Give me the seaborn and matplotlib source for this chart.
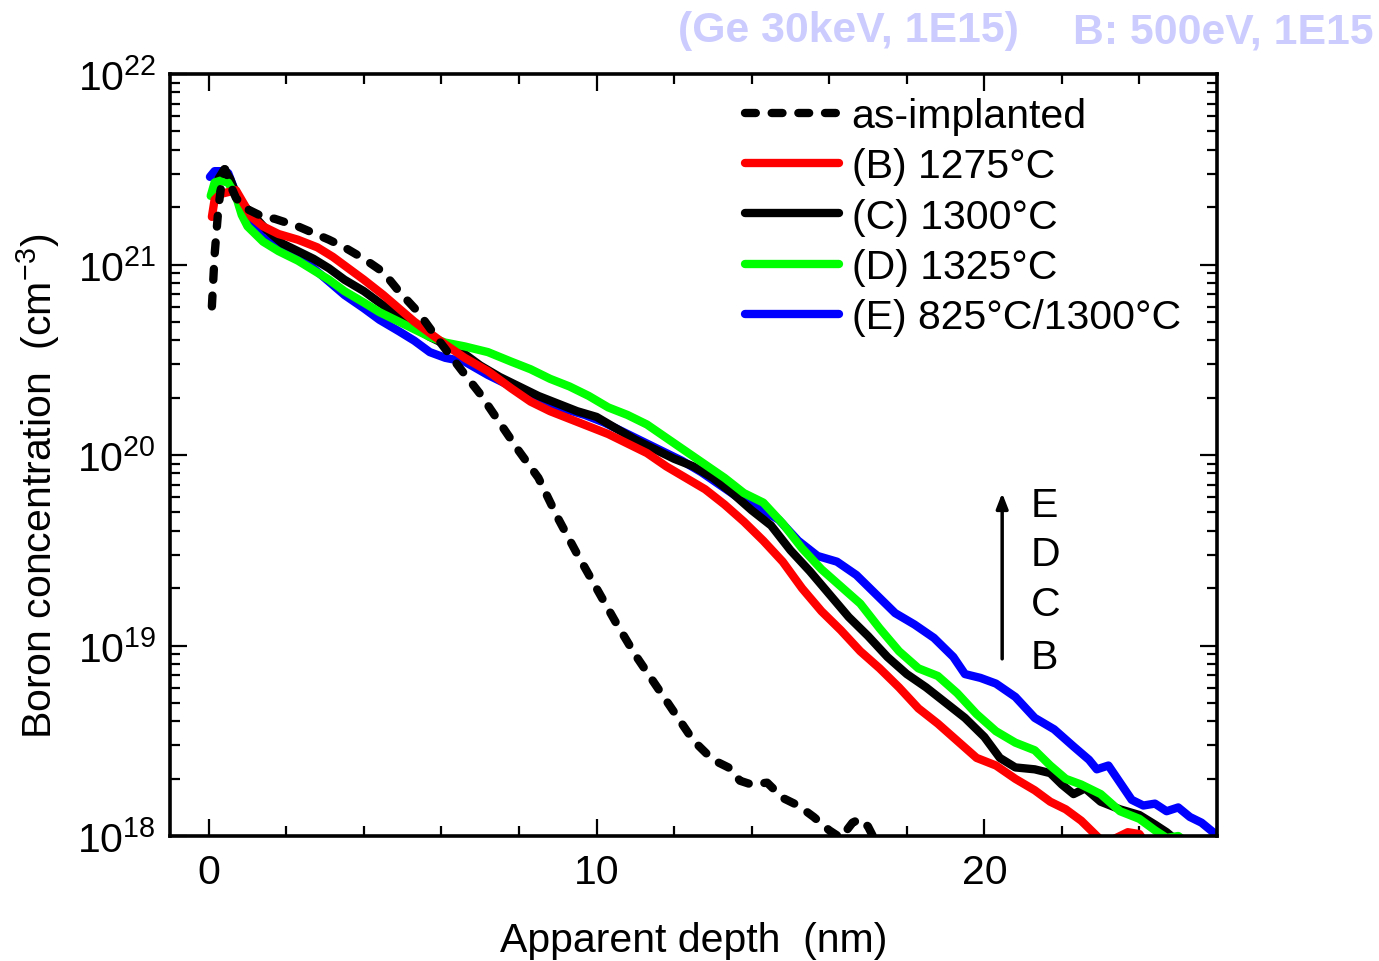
import numpy as np
import pandas as pd
import matplotlib
matplotlib.use("Agg")
import matplotlib.pyplot as plt
from matplotlib.ticker import MultipleLocator, LogLocator, FixedLocator, FuncFormatter, NullFormatter
import seaborn as sns

# ---------------- data (depth in nm, log10 of boron concentration in cm^-3) ----------------
asimp_depth = [0.08, 0.15, 0.25, 0.35, 0.42, 0.55, 0.7, 0.9, 1.2, 1.4, 1.7, 2.3, 3.1, 3.5, 4.0, 4.5,
               4.9, 5.4, 5.9, 6.5, 7.0, 7.5, 8.0, 8.5, 9.0, 9.5, 10.0, 10.5, 11.0, 11.5, 12.0, 12.5,
               13.0, 13.4, 13.7, 14.0, 14.4, 14.8, 15.2, 15.6, 16.0, 16.3, 16.6, 16.8, 17.0, 17.2, 18.0]
asimp_log = [20.78, 21.05, 21.30, 21.46, 21.50, 21.42, 21.35, 21.30, 21.27, 21.25, 21.24, 21.20, 21.13,
             21.09, 21.03, 20.96, 20.86, 20.75, 20.61, 20.45, 20.32, 20.17, 20.02, 19.88, 19.67, 19.48,
             19.30, 19.12, 18.95, 18.80, 18.65, 18.50, 18.40, 18.36, 18.29, 18.27, 18.28, 18.20, 18.16,
             18.10, 18.03, 17.99, 18.07, 18.09, 18.05, 17.97, 17.90]

b_depth = [0.08, 0.15, 0.3, 0.5, 0.7, 0.9, 1.1, 1.4, 1.8, 2.3, 2.8, 3.2, 3.6, 4.0, 4.5, 4.9, 5.3, 5.7,
           6.1, 6.6, 7.2, 7.8, 8.3, 8.8, 9.3, 9.8, 10.3, 10.8, 11.3, 11.8, 12.3, 12.8, 13.3, 13.8,
           14.3, 14.8, 15.3, 15.8, 16.3, 16.8, 17.3, 17.8, 18.3, 18.8, 19.3, 19.8, 20.3, 20.8, 21.3,
           21.7, 22.1, 22.5, 22.8, 23.1, 23.4, 23.7, 24.0, 24.2]
b_log = [21.25, 21.34, 21.37, 21.38, 21.39, 21.32, 21.25, 21.20, 21.16, 21.13, 21.09, 21.04, 20.98,
         20.92, 20.84, 20.77, 20.70, 20.64, 20.58, 20.51, 20.44, 20.35, 20.28, 20.23, 20.19, 20.15,
         20.11, 20.06, 20.01, 19.94, 19.88, 19.82, 19.74, 19.65, 19.55, 19.44, 19.30, 19.18, 19.08,
         18.97, 18.88, 18.78, 18.67, 18.59, 18.50, 18.41, 18.37, 18.30, 18.24, 18.18, 18.14, 18.08,
         18.02, 17.96, 17.99, 18.02, 18.01, 17.95]

c_depth = [0.1, 0.25, 0.4, 0.55, 0.7, 0.9, 1.1, 1.5, 1.9, 2.3, 2.7, 3.1, 3.5, 4.0, 4.4, 4.9, 5.3, 5.7,
           6.1, 6.6, 7.0, 7.5, 8.0, 8.5, 9.0, 9.5, 10.0, 10.5, 11.0, 11.5, 12.0, 12.5, 13.0, 13.5,
           14.0, 14.5, 15.0, 15.5, 16.0, 16.5, 17.0, 17.5, 18.0, 18.5, 19.0, 19.5, 20.0, 20.4, 20.8,
           21.3, 21.7, 22.0, 22.3, 22.6, 23.0, 23.5, 24.0, 24.4, 24.7, 25.0]
c_log = [21.36, 21.45, 21.50, 21.45, 21.37, 21.31, 21.27, 21.18, 21.11, 21.07, 21.03, 20.98, 20.92,
         20.86, 20.80, 20.73, 20.67, 20.62, 20.58, 20.53, 20.47, 20.41, 20.36, 20.31, 20.27, 20.23,
         20.20, 20.14, 20.08, 20.03, 19.98, 19.94, 19.88, 19.80, 19.71, 19.63, 19.50, 19.39, 19.27,
         19.15, 19.05, 18.94, 18.85, 18.78, 18.70, 18.62, 18.52, 18.41, 18.36, 18.35, 18.33, 18.27,
         18.22, 18.25, 18.18, 18.14, 18.11, 18.06, 18.02, 17.97]

d_depth = [0.05, 0.15, 0.3, 0.5, 0.7, 0.85, 1.0, 1.4, 1.8, 2.3, 2.7, 3.1, 3.5, 4.0, 4.4, 4.9, 5.3, 5.7,
           6.1, 6.6, 7.2, 7.8, 8.3, 8.8, 9.3, 9.8, 10.3, 10.8, 11.3, 11.8, 12.3, 12.8, 13.3, 13.8,
           14.3, 14.8, 15.3, 15.8, 16.3, 16.8, 17.3, 17.8, 18.3, 18.8, 19.3, 19.8, 20.3, 20.8, 21.3,
           21.7, 22.1, 22.5, 23.0, 23.5, 24.0, 24.4, 24.7, 25.0, 25.2]
d_log = [21.36, 21.43, 21.44, 21.43, 21.36, 21.26, 21.20, 21.12, 21.07, 21.02, 20.97, 20.92, 20.86,
         20.80, 20.75, 20.70, 20.66, 20.62, 20.59, 20.57, 20.54, 20.49, 20.45, 20.40, 20.36, 20.31,
         20.25, 20.21, 20.16, 20.09, 20.02, 19.95, 19.88, 19.80, 19.75, 19.64, 19.51, 19.40, 19.31,
         19.22, 19.09, 18.97, 18.88, 18.84, 18.75, 18.64, 18.55, 18.49, 18.45, 18.37, 18.30, 18.27,
         18.22, 18.13, 18.09, 18.03, 17.99, 18.00, 17.97]

e_depth = [0.03, 0.15, 0.3, 0.5, 0.65, 0.8, 1.0, 1.4, 1.8, 2.3, 2.7, 3.1, 3.5, 4.0, 4.4, 4.9, 5.3, 5.7,
           6.1, 6.6, 7.2, 7.7, 8.2, 8.7, 9.2, 9.7, 10.2, 10.7, 11.2, 11.7, 12.2, 12.7, 13.2, 13.7,
           14.2, 14.7, 15.2, 15.7, 16.2, 16.7, 17.2, 17.7, 18.2, 18.7, 19.2, 19.5, 19.9, 20.3, 20.8,
           21.3, 21.8, 22.3, 22.7, 22.9, 23.2, 23.5, 23.8, 24.1, 24.4, 24.7, 25.0, 25.3, 25.6, 25.9,
           26.1]
e_log = [21.46, 21.49, 21.49, 21.48, 21.40, 21.32, 21.25, 21.14, 21.09, 21.04, 20.98, 20.91, 20.84,
         20.77, 20.71, 20.65, 20.60, 20.54, 20.51, 20.49, 20.42, 20.37, 20.32, 20.28, 20.24, 20.21,
         20.17, 20.12, 20.07, 20.02, 19.97, 19.91, 19.84, 19.77, 19.72, 19.66, 19.55, 19.47, 19.44,
         19.37, 19.27, 19.17, 19.11, 19.04, 18.94, 18.85, 18.83, 18.80, 18.73, 18.62, 18.56, 18.47,
         18.40, 18.35, 18.37, 18.28, 18.19, 18.16, 18.17, 18.13, 18.15, 18.10, 18.07, 18.02, 17.98]

series_labels = ["as-implanted", "(B) 1275°C", "(C) 1300°C", "(D) 1325°C", "(E) 825°C/1300°C"]
series_colors = ["#000000", "#ff0000", "#000000", "#00ff00", "#0000ff"]

y_ticks = [1e18, 1e19, 1e20, 1e21, 1e22]
x_ticks = [0, 10, 20]
order_letters = ["E", "D", "C", "B"]

# ---------------- style ----------------
sns.set_style("ticks")
plt.rcParams["font.family"] = ["Liberation Sans", "DejaVu Sans"]
plt.rcParams["mathtext.default"] = "regular"
for k in ["text.color", "axes.labelcolor", "xtick.color", "ytick.color", "axes.edgecolor"]:
    plt.rcParams[k] = "black"

fig = plt.figure(figsize=(13.79, 9.62), dpi=100)
ax = fig.add_axes([170 / 1379, 1 - 837 / 962, (1217 - 170) / 1379, (837 - 75) / 962])

LW = 6.0
data = [(asimp_depth, asimp_log), (b_depth, b_log), (c_depth, c_log), (d_depth, d_log), (e_depth, e_log)]
zorders = [6, 5, 3, 4, 2]
for i, ((dx, dy), lab, col) in enumerate(zip(data, series_labels, series_colors)):
    df = pd.DataFrame({"depth": dx, "conc": 10 ** np.array(dy)})
    if i == 0:
        sns.lineplot(data=df, x="depth", y="conc", ax=ax, color=col, linewidth=LW, label=lab,
                     sort=False, estimator=None, linestyle=(0, (1.3, 1.9)),
                     dash_capstyle="round", zorder=zorders[i])
    else:
        sns.lineplot(data=df, x="depth", y="conc", ax=ax, color=col, linewidth=LW, label=lab,
                     sort=False, estimator=None, solid_capstyle="round",
                     solid_joinstyle="round", zorder=zorders[i])

ax.set_yscale("log")
ax.set_xlim(-1, 26)
ax.set_ylim(1e18, 1e22)

ax.xaxis.set_major_locator(FixedLocator(x_ticks))
ax.xaxis.set_minor_locator(MultipleLocator(2))
ax.yaxis.set_major_locator(FixedLocator(y_ticks))
ax.yaxis.set_minor_locator(LogLocator(base=10, subs=np.arange(2, 10)))
ax.yaxis.set_minor_formatter(NullFormatter())
ax.yaxis.set_major_formatter(FuncFormatter(lambda v, p: r"$10^{%d}$" % int(round(np.log10(v)))))

ax.tick_params(which="both", direction="in", top=True, right=True, width=1.6, labelsize=29.5,
               colors="black")
ax.tick_params(which="major", length=12)
ax.tick_params(which="minor", length=7)
ax.tick_params(axis="x", which="major", pad=12)
ax.tick_params(axis="y", which="major", pad=10)
for s in ax.spines.values():
    s.set_linewidth(2.6)
    s.set_color("black")
    s.set_zorder(10)

ax.set_xlabel("Apparent depth  (nm)", fontsize=29.5, va="center")
ax.xaxis.set_label_coords(0.5, -0.137)
ax.set_ylabel(r"Boron concentration  (cm$^{-3}$)", fontsize=29.5, va="center")
ax.yaxis.set_label_coords(-0.126, 0.46)

leg = ax.legend(loc="upper left", bbox_to_anchor=((745 - 170) / 1047, (837 - 98) / 762),
                frameon=False, fontsize=29.5, handlelength=2.3, handletextpad=0.3,
                labelspacing=0.3, borderpad=0, borderaxespad=0)

# arrow and letters
ax.annotate("", xy=(20.46, 10 ** 19.80), xytext=(20.46, 10 ** 18.93),
            arrowprops=dict(arrowstyle="-|>,head_length=0.9,head_width=0.35", lw=2.5, color="black",
                            shrinkA=0, shrinkB=0))
for lt, lv in zip(order_letters, [19.74, 19.48, 19.22, 18.94]):
    ax.text(21.2, 10 ** lv, lt, fontsize=29.5, ha="left", va="center")

fig.text(678 / 1379, 1 - 31 / 962, "(Ge 30keV, 1E15)", fontsize=30.8, fontweight="bold",
         color="#ccccff", ha="left", va="center")
fig.text(1073 / 1379, 1 - 33 / 962, "B: 500eV, 1E15", fontsize=30.8, fontweight="bold",
         color="#ccccff", ha="left", va="center")

fig.savefig("out.png", dpi=100)
